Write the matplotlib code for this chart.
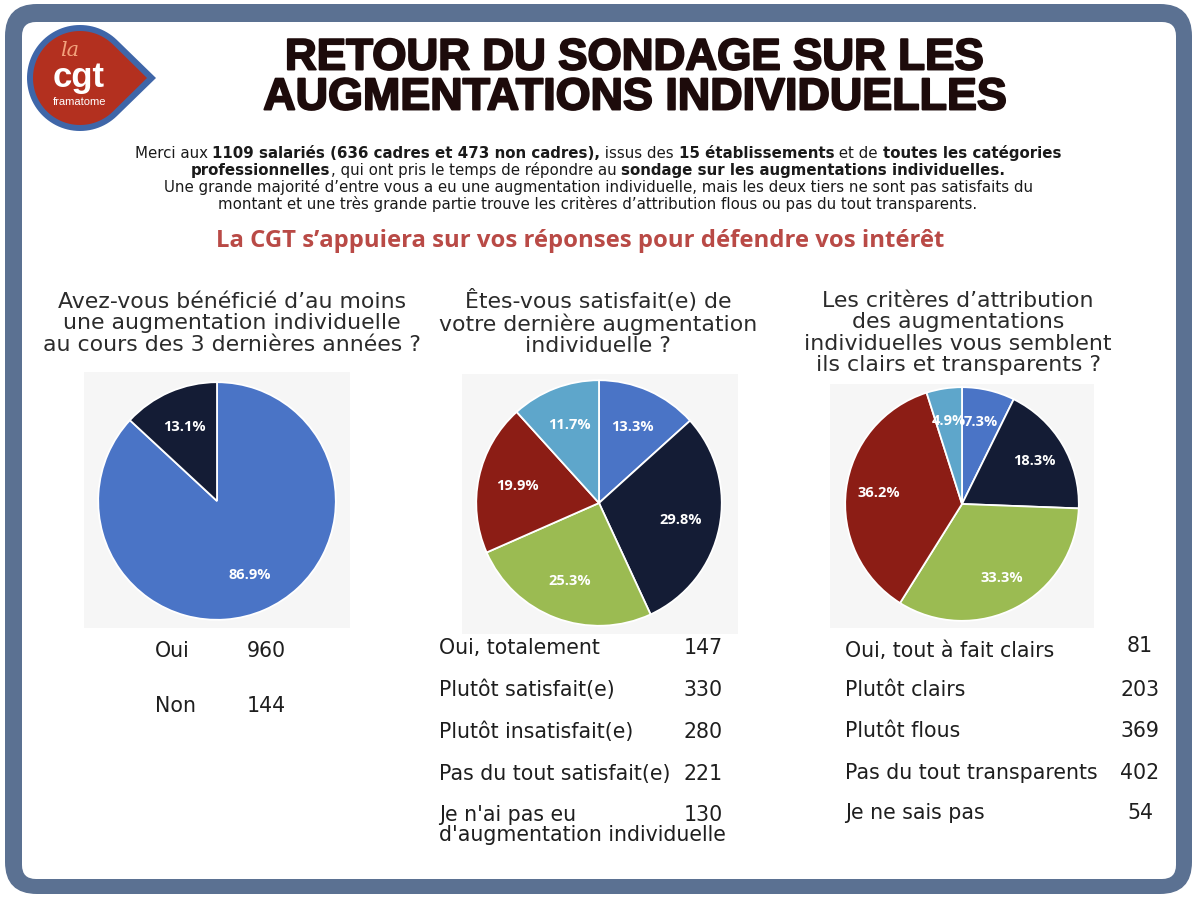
import matplotlib
matplotlib.use("Agg")
import matplotlib.pyplot as plt
import matplotlib.patheffects as pe
from matplotlib.patches import FancyBboxPatch, Rectangle, Polygon
import numpy as np

q1_title = "Avez-vous bénéficié d’au moins\nune augmentation individuelle\nau cours des 3 dernières années ?"
q1_labels = ["Oui", "Non"]
q1_counts = [960, 144]
q1_pct = [86.9, 13.1]

q2_title = "Êtes-vous satisfait(e) de\nvotre dernière augmentation\nindividuelle ?"
q2_labels = ["Oui, totalement", "Plutôt satisfait(e)", "Plutôt insatisfait(e)",
             "Pas du tout satisfait(e)", "Je n'ai pas eu\nd'augmentation individuelle"]
q2_counts = [147, 330, 280, 221, 130]
q2_pct = [13.3, 29.8, 25.3, 19.9, 11.7]

q3_title = "Les critères d’attribution\ndes augmentations\nindividuelles vous semblent\nils clairs et transparents ?"
q3_labels = ["Oui, tout à fait clairs", "Plutôt clairs", "Plutôt flous",
             "Pas du tout transparents", "Je ne sais pas"]
q3_counts = [81, 203, 369, 402, 54]
q3_pct = [7.3, 18.3, 33.3, 36.2, 4.9]

colors2 = ["#4a74c6", "#141c35", "#9bbb52", "#8c1d15", "#5ea6cb"]
colors1 = ["#4a74c6", "#141c35"]

W, H = 1197, 899
fig = plt.figure(figsize=(W / 100, H / 100), dpi=100)
bg = fig.add_axes([0, 0, 1, 1])
bg.set_xlim(0, W)
bg.set_ylim(H, 0)
bg.axis("off")

# frame
bg.add_patch(FancyBboxPatch((5, 4), 1187, 890, boxstyle="round,pad=0,rounding_size=32",
                            fc="#5b7192", ec="none"))
bg.add_patch(FancyBboxPatch((22, 22), 1154, 857, boxstyle="round,pad=0,rounding_size=14",
                            fc="white", ec="none"))

# logo (teardrop)
def drop(cx, cy, r, d):
    a = np.arccos(r / d)
    t = np.linspace(a, 2 * np.pi - a, 80)
    pts = np.column_stack([cx + r * np.cos(t), cy - r * np.sin(t)])
    return np.vstack([pts, [cx + d, cy]])

bg.add_patch(Polygon(drop(80, 78, 53, 76), fc="#3f66a8", ec="none"))
bg.add_patch(Polygon(drop(80, 78, 47, 67), fc="#b3301f", ec="none"))
bg.text(70, 50, "la", fontsize=15, style="italic", color="#f2a27c", ha="center", va="center",
        family="DejaVu Serif")
bg.text(79, 78, "cgt", fontsize=25, weight="bold", color="white", ha="center", va="center",
        family="Liberation Sans")
bg.text(80, 102, "framatome", fontsize=8, color="white", ha="center", va="center",
        family="Liberation Sans")

# title
stroke = [pe.withStroke(linewidth=1.4, foreground="#1d0b0b")]
bg.text(634, 58, "RETOUR DU SONDAGE SUR LES", fontsize=31.7, weight="bold", color="#1d0b0b",
        ha="center", va="center", family="Liberation Sans", path_effects=stroke)
bg.text(635, 98, "AUGMENTATIONS INDIVIDUELLES", fontsize=32.3, weight="bold", color="#1d0b0b",
        ha="center", va="center", family="Liberation Sans", path_effects=stroke)

# intro paragraph with bold parts
para = [
    [("Merci aux ", "normal"), ("1109 salariés (636 cadres et 473 non cadres),", "bold"),
     (" issus des ", "normal"), ("15 établissements", "bold"), (" et de ", "normal"),
     ("toutes les catégories", "bold")],
    [("professionnelles", "bold"), (", qui ont pris le temps de répondre au ", "normal"),
     ("sondage sur les augmentations individuelles.", "bold")],
    [("Une grande majorité d’entre vous a eu une augmentation individuelle, mais les deux tiers "
      "ne sont pas satisfaits du", "normal")],
    [("montant et une très grande partie trouve les critères d’attribution flous ou pas du tout "
      "transparents.", "normal")],
]
para_y = [153, 170, 187, 204]
renderer = fig.canvas.get_renderer()
for line, y in zip(para, para_y):
    texts = []
    for s, w in line:
        t = bg.text(0, y, s, fontsize=10.8, weight=w, color="#1a1a1a", ha="left", va="center",
                    family="DejaVu Sans")
        texts.append(t)
    widths = [t.get_window_extent(renderer=renderer).width for t in texts]
    x = 598 - sum(widths) / 2
    for t, wd in zip(texts, widths):
        t.set_x(x)
        x += wd

bg.text(580, 241, "La CGT s’appuiera sur vos réponses pour défendre vos intérêt", fontsize=17.2,
        weight="bold", color="#b94a46", ha="center", va="center", family="Open Sans")

# question titles
qfont = dict(fontsize=15.8, color="#2b2b2b", ha="center", va="top", family="DejaVu Sans",
             linespacing=1.08)
bg.text(232, 292, q1_title, **qfont)
bg.text(598, 289, q2_title, **qfont)
bg.text(958, 291, q3_title, **qfont)

# light panels behind pies
for x0, y0, x1, y1 in [(84, 372, 350, 628), (462, 374, 738, 634), (830, 384, 1094, 628)]:
    bg.add_patch(Rectangle((x0, y0), x1 - x0, y1 - y0, fc="#f6f6f6", ec="none"))


def draw_pie(cx, cy, r, vals, cols, pdist):
    ax = fig.add_axes([(cx - r) / W, 1 - (cy + r) / H, 2 * r / W, 2 * r / H])
    _, _, autotexts = ax.pie(vals, colors=cols, startangle=90, counterclock=False,
                             autopct=lambda p: f"{p:.1f}%", pctdistance=pdist,
                             wedgeprops=dict(edgecolor="white", linewidth=1.3))
    for t in autotexts:
        t.set_color("white")
        t.set_fontsize(10.5)
        t.set_fontweight("bold")
        t.set_family("Open Sans")
    ax.set_xlim(-1.01, 1.01)
    ax.set_ylim(-1.01, 1.01)
    ax.set_aspect("equal")
    ax.axis("off")


draw_pie(217, 501, 120, q1_pct, colors1, 0.68)
draw_pie(599, 503, 124, q2_pct, colors2, 0.68)
draw_pie(962, 504, 118, q3_pct, colors2, 0.72)

# count tables
tfont = dict(fontsize=14.8, color="#1e1e1e", va="center", family="DejaVu Sans")
for lab, val, y in zip(q1_labels, q1_counts, [651, 706]):
    bg.text(155, y, lab, ha="left", **tfont)
    bg.text(266, y, str(val), ha="center", **tfont)

for lab, val, y in zip(q2_labels, q2_counts, [648, 690, 732, 774, 815]):
    if "\n" in lab:
        first, second = lab.split("\n")
        bg.text(439, y, first, ha="left", **tfont)
        bg.text(439, y + 20, second, ha="left", **tfont)
    else:
        bg.text(439, y, lab, ha="left", **tfont)
    bg.text(703, y, str(val), ha="center", **tfont)

for lab, val, y in zip(q3_labels, q3_counts, [651, 690, 731, 773, 813]):
    bg.text(845, y, lab, ha="left", **tfont)
    bg.text(1140, y - (5 if val == 81 else 0), str(val), ha="center", **tfont)

fig.savefig("out.png", dpi=100)
